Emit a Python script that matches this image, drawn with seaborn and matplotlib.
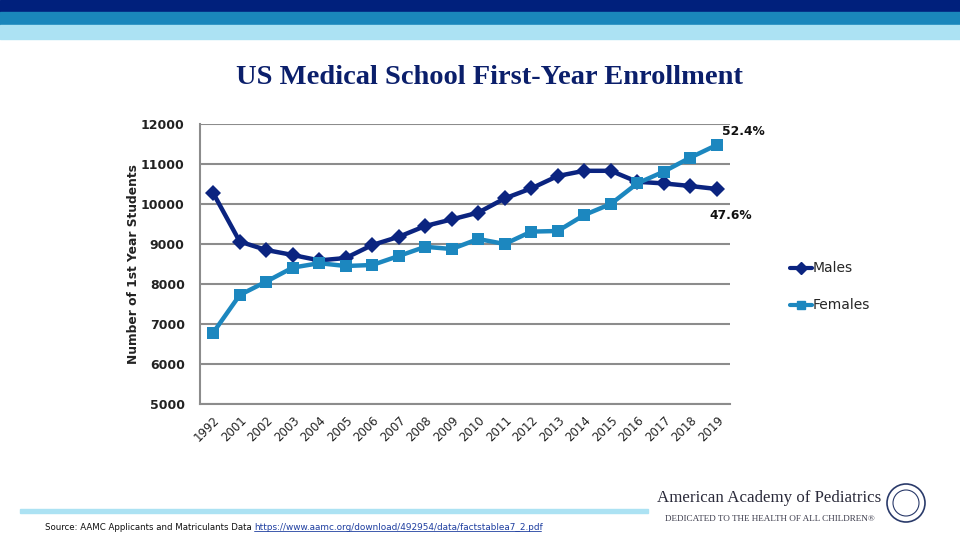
import numpy as np
import pandas as pd
import matplotlib
matplotlib.use("Agg")
import matplotlib.pyplot as plt
import matplotlib.patches as mpatches
import seaborn as sns

# Data
years = ["1992", "2001", "2002", "2003", "2004", "2005", "2006", "2007", "2008", "2009",
         "2010", "2011", "2012", "2013", "2014", "2015", "2016", "2017", "2018", "2019"]
males = [10270, 9060, 8850, 8725, 8590, 8650, 8975, 9180, 9450, 9615,
         9785, 10140, 10390, 10700, 10830, 10830, 10555, 10515, 10450, 10375]
females = [6785, 7725, 8060, 8410, 8520, 8450, 8475, 8700, 8930, 8875,
           9125, 9000, 9310, 9325, 9725, 10000, 10515, 10810, 11160, 11475]
yticks = [5000, 6000, 7000, 8000, 9000, 10000, 11000, 12000]

navy = "#0b2480"
blue = "#1c87bf"

df = pd.DataFrame({
    "pos": list(range(len(years))) * 2,
    "count": males + females,
    "sex": ["Males"] * len(years) + ["Females"] * len(years),
})

sns.set_style("white")
fig = plt.figure(figsize=(9.6, 5.4), dpi=100)

# header stripes
fig.patches.append(mpatches.Rectangle((0, 1 - 12 / 540), 1, 12 / 540, transform=fig.transFigure, color="#00207c"))
fig.patches.append(mpatches.Rectangle((0, 1 - 25 / 540), 1, 13 / 540, transform=fig.transFigure, color="#1a86bb"))
fig.patches.append(mpatches.Rectangle((0, 1 - 39 / 540), 1, 14 / 540, transform=fig.transFigure, color="#ace2f3"))
# footer stripe
fig.patches.append(mpatches.Rectangle((20 / 960, 27 / 540), 628 / 960, 4 / 540, transform=fig.transFigure, color="#ace2f3"))

ax = fig.add_axes([200 / 960, 136 / 540, 530 / 960, 280 / 540])
sns.lineplot(data=df, x="pos", y="count", hue="sex", style="sex",
             palette={"Males": navy, "Females": blue},
             markers={"Males": "D", "Females": "s"}, dashes=False,
             linewidth=3.2, markersize=8.5, markeredgewidth=0, ax=ax, legend=False)

ax.set_xlim(-0.5, len(years) - 0.5)
ax.set_ylim(5000, 12000)
ax.set_yticks(yticks)
ax.set_yticklabels([str(v) for v in yticks], fontsize=9, fontweight="bold", color="#222222")
ax.set_xticks(range(len(years)))
ax.set_xticklabels(years, rotation=45, ha="right", rotation_mode="anchor", fontsize=8.5, color="#222222")
ax.tick_params(axis="y", length=0, pad=11)
ax.tick_params(axis="x", length=0, pad=7)
ax.set_xlabel("")
ax.set_ylabel("Number of 1st Year Students", fontsize=8.8, fontweight="bold", color="#222222")
ax.yaxis.set_label_coords(-0.113, 0.5)
ax.yaxis.grid(True, color="#8c8c8c", linewidth=1.5)
for s in ["top", "right"]:
    ax.spines[s].set_visible(False)
for s in ["left", "bottom"]:
    ax.spines[s].set_color("#8c8c8c")
    ax.spines[s].set_linewidth(1.5)

ax.annotate("52.4%", xy=(len(years) - 1, females[-1]), xytext=(4, 10), textcoords="offset points",
            fontsize=8.8, fontweight="bold", color="#111111", ha="left", va="center")
ax.annotate("47.6%", xy=(len(years) - 1, males[-1]), xytext=(-5, -19), textcoords="offset points",
            fontsize=8.8, fontweight="bold", color="#111111", ha="left", va="center")

fig.text(489 / 960, 1 - 77 / 540, "US Medical School First-Year Enrollment", ha="center", va="center",
         fontsize=20.5, fontweight="bold", family="Liberation Serif", color="#0b1f6b")

# legend
handles = [plt.Line2D([], [], color=navy, marker="D", lw=3, markersize=6),
           plt.Line2D([], [], color=blue, marker="s", lw=3, markersize=6)]
fig.legend(handles, ["Males", "Females"], loc="upper left", bbox_to_anchor=(777 / 960, 1 - 249 / 540),
           frameon=False, fontsize=10, handlelength=1.6, handletextpad=0.1, labelspacing=1.65)

# footer
fig.text(45 / 960, 1 - 527 / 540, "Source: AAMC Applicants and Matriculants Data", fontsize=6.2,
         va="center", ha="left", color="#111111")
fig.text(254 / 960, 1 - 527 / 540, "https://www.aamc.org/download/492954/data/factstablea7_2.pdf",
         fontsize=6.4, va="center", ha="left", color="#1f3fa0")
fig.lines.append(plt.Line2D([254 / 960, 541 / 960], [1 - 531 / 540, 1 - 531 / 540],
                            transform=fig.transFigure, color="#1f3fa0", lw=0.6))
fig.text(769 / 960, 1 - 498 / 540, "American Academy of Pediatrics", fontsize=12.2, family="Liberation Serif",
         ha="center", va="center", color="#2a2a3a")
fig.text(770 / 960, 1 - 519 / 540, "DEDICATED TO THE HEALTH OF ALL CHILDREN\u00ae", fontsize=6.6,
         family="Liberation Serif", ha="center", va="center", color="#3a3a4a")
fig.patches.append(mpatches.Ellipse((906 / 960, 1 - 503 / 540), 38 / 960, 38 / 540, transform=fig.transFigure,
                                    fill=False, ec="#2a3a6a", lw=1.2))
fig.patches.append(mpatches.Ellipse((906 / 960, 1 - 503 / 540), 26 / 960, 26 / 540, transform=fig.transFigure,
                                    fill=False, ec="#2a3a6a", lw=0.8))

fig.savefig("out.png", dpi=100)
